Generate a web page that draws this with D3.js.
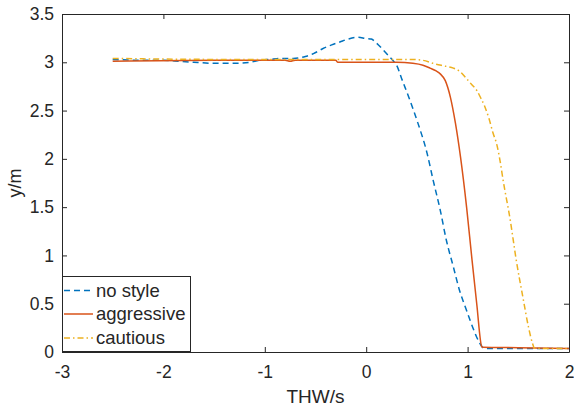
<!DOCTYPE html>
<html><head><meta charset="utf-8">
<script src="https://cdn.jsdelivr.net/npm/d3@7"></script>
<style>body{margin:0;background:#fff}svg{display:block}text{font-family:"Liberation Sans",Arial,sans-serif;fill:#262626}</style>
</head><body>
<script>
const xTicks = [-3, -2, -1, 0, 1, 2];
const yTicks = [0, 0.5, 1, 1.5, 2, 2.5, 3, 3.5];
const seriesNames = ["no style", "aggressive", "cautious"];

const noStyleX = [-2.5,-2.2,-2.0,-1.84,-1.7,-1.5,-1.3,-1.15,-1.05,-0.95,-0.83,-0.72,-0.6,-0.52,-0.43,-0.34,-0.26,-0.18,-0.08,0.0,0.05,0.10,0.2,0.27,0.30,0.35,0.43,0.51,0.60,0.66,0.73,0.79,0.86,0.92,0.99,1.06,1.11,1.16,1.25,1.5,1.75,2.0];
const noStyleY = [3.03,3.02,3.02,3.01,3.00,2.99,2.99,3.00,3.02,3.03,3.04,3.04,3.06,3.09,3.14,3.18,3.21,3.24,3.26,3.245,3.24,3.20,3.09,3.01,2.97,2.83,2.61,2.37,2.06,1.78,1.47,1.16,0.88,0.64,0.43,0.23,0.11,0.04,0.035,0.035,0.035,0.035];

const aggressiveX = [-2.5,-1.5,-1.0,-0.8,-0.75,-0.7,-0.5,-0.3,-0.28,0.0,0.2,0.3,0.46,0.56,0.63,0.69,0.73,0.78,0.83,0.88,0.93,0.99,1.04,1.09,1.14,1.15,1.5,2.0];
const aggressiveY = [3.01,3.02,3.02,3.02,3.01,3.02,3.02,3.02,3.00,3.00,3.00,3.00,2.99,2.97,2.94,2.91,2.88,2.81,2.64,2.37,2.02,1.50,0.99,0.50,0.055,0.05,0.045,0.035];

const cautiousX = [-2.5,-1.5,-0.5,0.0,0.3,0.45,0.56,0.69,0.78,0.86,0.93,0.99,1.04,1.09,1.13,1.17,1.21,1.25,1.29,1.32,1.35,1.42,1.48,1.55,1.60,1.64,1.66,1.8,2.0];
const cautiousY = [3.04,3.03,3.03,3.03,3.03,3.03,3.02,2.98,2.96,2.94,2.90,2.83,2.77,2.71,2.63,2.54,2.42,2.27,2.14,1.98,1.78,1.37,0.95,0.54,0.26,0.09,0.04,0.035,0.035];

const W = 574, H = 408;
const m = {l: 62, r: 5, t: 14, b: 56};
const svg = d3.select("body").append("svg").attr("width", W).attr("height", H);
const x = d3.scaleLinear().domain([-3, 2]).range([m.l, W - m.r]);
const y = d3.scaleLinear().domain([0, 3.5]).range([H - m.b, m.t]);

const colors = ["#0072BD", "#D95319", "#EDB120"];
const dashes = ["6,4", null, "6,3,1.5,3"];
const data = [
  noStyleX.map((v, i) => [v, noStyleY[i]]),
  aggressiveX.map((v, i) => [v, aggressiveY[i]]),
  cautiousX.map((v, i) => [v, cautiousY[i]])
];
const line = d3.line().x(d => x(d[0])).y(d => y(d[1])).curve(d3.curveMonotoneX);

const plot = svg.append("g");
data.forEach((d, i) => {
  plot.append("path").datum(d).attr("d", line).attr("fill", "none")
    .attr("stroke", colors[i]).attr("stroke-width", 1.5)
    .attr("stroke-dasharray", dashes[i]);
});

const ax = "#262626";
const tickFs = 17.5;
const axBottom = d3.axisBottom(x).tickValues(xTicks).tickSizeInner(-5).tickSizeOuter(0).tickPadding(14).tickFormat(d => String(d));
const axLeft = d3.axisLeft(y).tickValues(yTicks).tickSizeInner(-5).tickSizeOuter(0).tickPadding(8).tickFormat(d => String(d));
const axTop = d3.axisTop(x).tickValues(xTicks).tickSizeInner(-5).tickSizeOuter(0).tickFormat("");
const axRight = d3.axisRight(y).tickValues(yTicks).tickSizeInner(-5).tickSizeOuter(0).tickFormat("");

function style(g) {
  g.selectAll("path.domain").attr("stroke", ax).attr("stroke-width", 1);
  g.selectAll("line").attr("stroke", ax).attr("stroke-width", 1);
  g.selectAll("text").attr("font-size", tickFs).attr("fill", ax).style("font-family", "'Liberation Sans', Arial, sans-serif");
}
svg.append("g").attr("transform", `translate(0,${H - m.b})`).call(axBottom).call(style);
svg.append("g").attr("transform", `translate(${m.l},0)`).call(axLeft).call(style);
svg.append("g").attr("transform", `translate(0,${m.t})`).call(axTop).call(style);
svg.append("g").attr("transform", `translate(${W - m.r},0)`).call(axRight).call(style);

svg.append("text").attr("x", (m.l + W - m.r) / 2).attr("y", 403).attr("text-anchor", "middle")
  .attr("font-size", 19).text("THW/s");
svg.append("text").attr("transform", `translate(21,${(m.t + H - m.b) / 2}) rotate(-90)`)
  .attr("text-anchor", "middle").attr("font-size", 18).text("y/m");

const lg = svg.append("g");
lg.append("rect").attr("x", 62.5).attr("y", 276.5).attr("width", 128).attr("height", 75)
  .attr("fill", "#fff").attr("stroke", ax).attr("stroke-width", 1);
const rowsY = [290.5, 314, 338];
seriesNames.forEach((n, i) => {
  lg.append("line").attr("x1", 64).attr("x2", 93).attr("y1", rowsY[i]).attr("y2", rowsY[i])
    .attr("stroke", colors[i]).attr("stroke-width", 1.5).attr("stroke-dasharray", dashes[i]);
  lg.append("text").attr("x", 96).attr("y", rowsY[i]).attr("dy", "0.35em")
    .attr("font-size", 18.5).text(n);
});
</script>
</body></html>
